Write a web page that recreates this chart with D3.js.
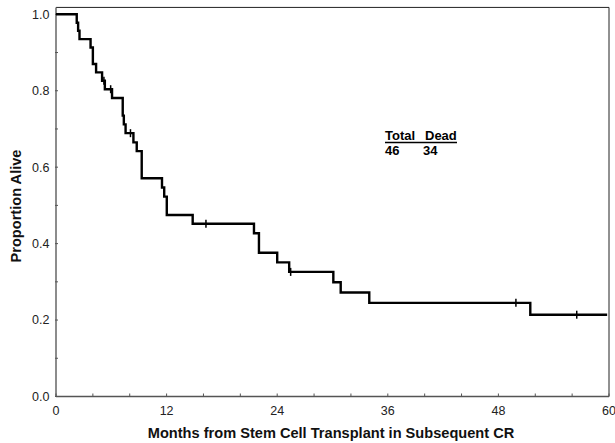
<!DOCTYPE html>
<html lang="en">
<head>
  <meta charset="utf-8"/>
  <title>KM curve</title>
  <script src="https://d3js.org/d3.v7.min.js"></script>
  <style>
  body { margin: 0; background: #fff; }
  text { font-family: "Liberation Sans", Arial, sans-serif; }
  .tick-label { font-size: 12.5px; fill: #222; }
  .axis-title { font-size: 14.6px; font-weight: bold; fill: #111; }
  .km { fill: none; stroke: #000; stroke-width: 2.4px; }
  .legend { font-size: 13px; font-weight: bold; fill: #000; }
  </style>
</head>
<body>
<svg id="chart" width="615" height="443"></svg>
<script>
// step times (months) and survival level after each step
const eventMonths = [2.25, 2.4, 2.55, 3.75, 4.0, 4.35, 5.0, 5.3, 6.08, 7.24, 7.36, 7.55, 8.4, 8.76, 9.3,
                     11.5, 11.74, 12.02, 14.83, 21.48, 22.02, 24.0, 25.3, 30.09, 30.89, 33.99, 51.46];
const survival    = [0.978, 0.957, 0.935, 0.913, 0.870, 0.848, 0.826, 0.804, 0.781, 0.735, 0.712, 0.689, 0.665, 0.642, 0.571,
                     0.547, 0.523, 0.475, 0.452, 0.427, 0.376, 0.351, 0.326, 0.299, 0.272, 0.245, 0.214];
const censorMonths = [5.2, 5.93, 8.08, 16.27, 25.46, 49.9, 56.5];
const lastFollowUp = 59.8;
const xTicks = [0, 12, 24, 36, 48, 60];
const yTicks = [0, 0.2, 0.4, 0.6, 0.8, 1.0];
const legendHead = ["Total", "Dead"];
const legendVals = ["46", "34"];

const svg = d3.select("#chart");
const x = d3.scaleLinear().domain([0, 60]).range([56, 609]);
const y = d3.scaleLinear().domain([0, 1]).range([396.5, 14.3]);

// frame
svg.append("line").attr("x1", x(0)).attr("x2", x(60)).attr("y1", y(1.018)).attr("y2", y(1.018))
  .style("stroke", "#222").style("stroke-width", 1);
svg.append("line").attr("x1", x(60)).attr("x2", x(60)).attr("y1", y(1.018)).attr("y2", y(0))
  .style("stroke", "#222").style("stroke-width", 1);
svg.append("line").attr("x1", x(0)).attr("x2", x(0)).attr("y1", y(1.018)).attr("y2", y(0))
  .style("stroke", "#666").style("stroke-width", 1.5);
svg.append("line").attr("x1", x(0)).attr("x2", x(60)).attr("y1", y(0)).attr("y2", y(0))
  .style("stroke", "#555").style("stroke-width", 1.5);

// ticks
const xMinor = d3.range(0, 61, 4);
svg.selectAll(".xt").data(xMinor).enter().append("line")
  .attr("x1", d => x(d)).attr("x2", d => x(d))
  .attr("y1", y(0)).attr("y2", y(0) - 3)
  .style("stroke", "#555").style("stroke-width", 1);
const yMinor = d3.range(0, 1.01, 0.1);
svg.selectAll(".yt").data(yMinor).enter().append("line")
  .attr("x1", x(0) - 1).attr("x2", x(0) + 2)
  .attr("y1", d => y(d)).attr("y2", d => y(d))
  .style("stroke", "#555").style("stroke-width", 1);

svg.selectAll(".xl").data(xTicks).enter().append("text")
  .attr("class", "tick-label")
  .attr("x", d => x(d)).attr("y", 415)
  .attr("text-anchor", "middle")
  .text(d => d);
svg.selectAll(".yl").data(yTicks).enter().append("text")
  .attr("class", "tick-label")
  .attr("x", 49.5).attr("y", d => y(d) + 4.4)
  .attr("text-anchor", "end")
  .text(d => d3.format(".1f")(d));

svg.append("text").attr("class", "axis-title")
  .attr("x", 331).attr("y", 437.5).attr("text-anchor", "middle")
  .text("Months from Stem Cell Transplant in Subsequent CR");
svg.append("text").attr("class", "axis-title")
  .attr("transform", "translate(20.5,206) rotate(-90)").attr("text-anchor", "middle")
  .text("Proportion Alive");

// km curve
const pts = [[0, 1]].concat(eventMonths.map((t, i) => [t, survival[i]]));
pts.push([lastFollowUp, survival[survival.length - 1]]);
const line = d3.line().x(d => x(d[0])).y(d => y(d[1])).curve(d3.curveStepAfter);
svg.append("path").attr("class", "km").attr("d", line(pts));

function levelAt(t) {
  let s = 1;
  eventMonths.forEach((m, i) => { if (m <= t) s = survival[i]; });
  return s;
}
svg.selectAll(".cens").data(censorMonths).enter().append("line")
  .attr("x1", d => x(d)).attr("x2", d => x(d))
  .attr("y1", d => y(levelAt(d)) - 4).attr("y2", d => y(levelAt(d)) + 4)
  .style("stroke", "#000").style("stroke-width", 1.5);

// legend
svg.append("text").attr("class", "legend").attr("x", 385).attr("y", 139.5).text(legendHead[0]);
svg.append("text").attr("class", "legend").attr("x", 425).attr("y", 139.5).text(legendHead[1]);
svg.append("line").attr("x1", 385).attr("x2", 457).attr("y1", 142.5).attr("y2", 142.5)
  .style("stroke", "#000").style("stroke-width", 1.3);
svg.append("text").attr("class", "legend").attr("x", 385).attr("y", 155).text(legendVals[0]);
svg.append("text").attr("class", "legend").attr("x", 423).attr("y", 155).text(legendVals[1]);
</script>
</body>
</html>
